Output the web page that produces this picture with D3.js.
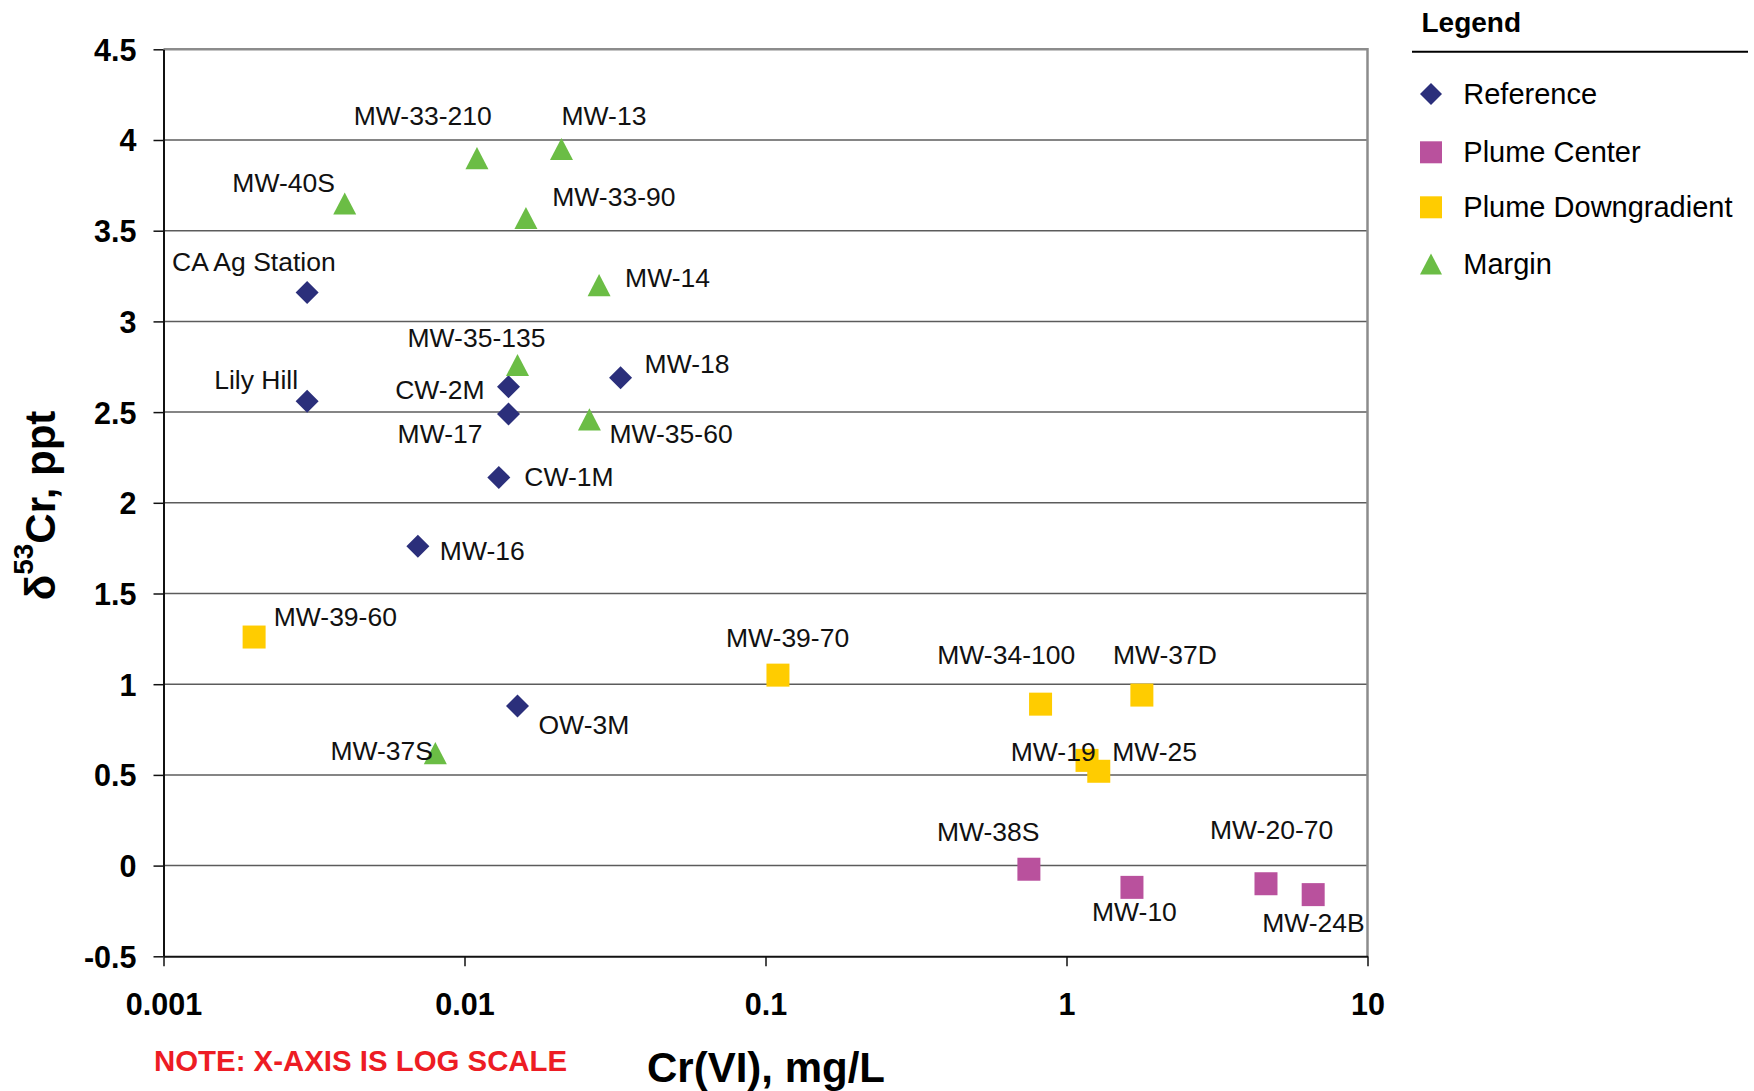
<!DOCTYPE html>
<html>
<head>
<meta charset="utf-8">
<script src="https://cdn.jsdelivr.net/npm/d3@7"></script>
<style>
  html, body { margin: 0; padding: 0; background: #fff; }
  svg { display: block; }
  text { font-family: "Liberation Sans", Arial, Helvetica, sans-serif; }
</style>
</head>
<body>
<svg id="chart" width="1754" height="1091"></svg>
<script>
// ---------------- DATA ----------------
const categories = ["Reference", "Plume Center", "Plume Downgradient", "Margin"];

const referenceNames = ["CA Ag Station", "Lily Hill", "CW-2M", "MW-17", "MW-18", "CW-1M", "MW-16", "OW-3M"];
const referenceCr    = [0.003, 0.003, 0.014, 0.014, 0.033, 0.013, 0.007, 0.015];
const referenceDelta = [3.16, 2.56, 2.64, 2.49, 2.69, 2.14, 1.76, 0.88];

const plumeCenterNames = ["MW-38S", "MW-10", "MW-20-70", "MW-24B"];
const plumeCenterCr    = [0.75, 1.65, 4.6, 6.6];
const plumeCenterDelta = [-0.02, -0.12, -0.10, -0.16];

const downgradientNames = ["MW-39-60", "MW-39-70", "MW-34-100", "MW-37D", "MW-19", "MW-25"];
const downgradientCr    = [0.002, 0.11, 0.82, 1.78, 1.17, 1.28];
const downgradientDelta = [1.26, 1.05, 0.89, 0.94, 0.58, 0.52];

const marginNames = ["MW-33-210", "MW-13", "MW-40S", "MW-33-90", "MW-14", "MW-35-135", "MW-35-60", "MW-37S"];
const marginCr    = [0.011, 0.021, 0.004, 0.016, 0.028, 0.015, 0.026, 0.008];
const marginDelta = [3.90, 3.95, 3.65, 3.57, 3.20, 2.76, 2.46, 0.62];

const xTickValues = [0.001, 0.01, 0.1, 1, 10];
const xTickLabels = ["0.001", "0.01", "0.1", "1", "10"];
const yTickValues = [-0.5, 0, 0.5, 1, 1.5, 2, 2.5, 3, 3.5, 4, 4.5];
const yTickLabels = ["-0.5", "0", "0.5", "1", "1.5", "2", "2.5", "3", "3.5", "4", "4.5"];

const xTitle = "Cr(VI), mg/L";
const noteText = "NOTE: X-AXIS IS LOG SCALE";
const legendTitle = "Legend";

// ---------------- LAYOUT / STYLE ----------------
const plot = { left: 163.5, right: 1367.5, top: 49.3, bottom: 956.3 };
const FONT = '"Liberation Sans", Arial, Helvetica, sans-serif';

const colors = {
  "Reference": "#2B2F7B",
  "Plume Center": "#B9519D",
  "Plume Downgradient": "#FFCC00",
  "Margin": "#6BBD45"
};

// label placement relative to marker centre: [dx, dy(baseline), anchor]
const labelPlacement = {
  "CA Ag Station": [-135, -21, "start"],
  "Lily Hill": [-9, -12.5, "end"],
  "CW-2M": [-24, 12.5, "end"],
  "MW-17": [-26, 28.6, "end"],
  "MW-18": [24, -5, "start"],
  "CW-1M": [25.5, 8.2, "start"],
  "MW-16": [22, 14, "start"],
  "OW-3M": [21, 28.2, "start"],
  "MW-38S": [-92, -28, "start"],
  "MW-10": [-40, 33.4, "start"],
  "MW-20-70": [-56, -44.3, "start"],
  "MW-24B": [-51, 37.6, "start"],
  "MW-39-60": [19.6, -11.2, "start"],
  "MW-39-70": [-52, -28.4, "start"],
  "MW-34-100": [-103.3, -40.3, "start"],
  "MW-37D": [-29, -31, "start"],
  "MW-19": [-76.3, 0.7, "start"],
  "MW-25": [13.4, -10.3, "start"],
  "MW-33-210": [-123.2, -33.2, "start"],
  "MW-13": [0, -23.6, "start"],
  "MW-40S": [-9.8, -11.4, "end"],
  "MW-33-90": [26.3, -11.6, "start"],
  "MW-14": [26, 2, "start"],
  "MW-35-135": [-110, -18.4, "start"],
  "MW-35-60": [20, 24, "start"],
  "MW-37S": [-2.3, 6.4, "end"]
};

// custom symbol types (size = bounding width)
const diamondType = {
  draw(ctx, s) {
    const r = s / 2;
    ctx.moveTo(0, -r); ctx.lineTo(r, 0); ctx.lineTo(0, r); ctx.lineTo(-r, 0); ctx.closePath();
  }
};
const squareType = {
  draw(ctx, s) {
    const r = s / 2;
    ctx.moveTo(-r, -r); ctx.lineTo(r, -r); ctx.lineTo(r, r); ctx.lineTo(-r, r); ctx.closePath();
  }
};
const triangleType = {
  draw(ctx, s) {
    const r = s / 2, h = s * 0.96 / 2;
    ctx.moveTo(0, -h); ctx.lineTo(r, h); ctx.lineTo(-r, h); ctx.closePath();
  }
};
const symbolTypes = {
  "Reference": diamondType,
  "Plume Center": squareType,
  "Plume Downgradient": squareType,
  "Margin": triangleType
};
const markerSize = 23;

// ---------------- BUILD SERIES ----------------
function build(cat, names, xs, ys) {
  return names.map((n, i) => ({ cat, name: n, x: xs[i], y: ys[i] }));
}
const series = [
  build("Reference", referenceNames, referenceCr, referenceDelta),
  build("Plume Center", plumeCenterNames, plumeCenterCr, plumeCenterDelta),
  build("Plume Downgradient", downgradientNames, downgradientCr, downgradientDelta),
  build("Margin", marginNames, marginCr, marginDelta)
];
const allPoints = series.flat();

// ---------------- SCALES ----------------
const x = d3.scaleLog().domain([0.001, 10]).range([plot.left, plot.right]);
const y = d3.scaleLinear().domain([-0.5, 4.5]).range([plot.bottom, plot.top]);

const svg = d3.select("#chart");

// gridlines
svg.append("g")
  .selectAll("line")
  .data(yTickValues.filter(v => v > -0.5 && v < 4.5))
  .join("line")
  .attr("x1", plot.left).attr("x2", plot.right)
  .attr("y1", d => y(d)).attr("y2", d => y(d))
  .attr("stroke", "#5c5c5c").attr("stroke-width", 1.5);

// top + right border (grey)
svg.append("line")
  .attr("x1", plot.left).attr("x2", plot.right)
  .attr("y1", y(4.5)).attr("y2", y(4.5))
  .attr("stroke", "#8c8c8c").attr("stroke-width", 2.5);
svg.append("line")
  .attr("x1", x(10)).attr("x2", x(10))
  .attr("y1", y(4.5) - 1.2).attr("y2", y(-0.5))
  .attr("stroke", "#8c8c8c").attr("stroke-width", 2.5);

// axes
const xAxis = d3.axisBottom(x)
  .tickValues(xTickValues)
  .tickFormat((d, i) => xTickLabels[i])
  .tickSizeInner(10).tickSizeOuter(0).tickPadding(30);
const gx = svg.append("g").attr("transform", `translate(0,${plot.bottom})`).call(xAxis);
gx.select(".domain").attr("stroke", "#111").attr("stroke-width", 2);
gx.selectAll(".tick line").attr("stroke", "#111").attr("stroke-width", 1.5);
gx.selectAll(".tick text")
  .attr("font-family", FONT).attr("font-size", 30.5).attr("font-weight", "bold")
  .attr("fill", "#000").attr("dy", 0).attr("y", 1015 - plot.bottom);

const yAxis = d3.axisLeft(y)
  .tickValues(yTickValues)
  .tickFormat((d, i) => yTickLabels[i])
  .tickSizeInner(10).tickSizeOuter(0).tickPadding(17);
const gy = svg.append("g").attr("transform", `translate(${plot.left},0)`).call(yAxis);
gy.select(".domain").attr("stroke", "#111").attr("stroke-width", 2);
gy.selectAll(".tick line").attr("stroke", "#111").attr("stroke-width", 1.5);
gy.selectAll(".tick text")
  .attr("font-family", FONT).attr("font-size", 30.5).attr("font-weight", "bold")
  .attr("fill", "#000").attr("dy", "0.36em");

// markers
const sym = d3.symbol();
svg.append("g")
  .selectAll("path")
  .data(allPoints)
  .join("path")
  .attr("transform", d => `translate(${x(d.x)},${y(d.y)})`)
  .attr("d", d => sym.type(symbolTypes[d.cat]).size(markerSize)())
  .attr("fill", d => colors[d.cat]);

// point labels
svg.append("g")
  .selectAll("text")
  .data(allPoints)
  .join("text")
  .attr("x", d => x(d.x) + labelPlacement[d.name][0])
  .attr("y", d => y(d.y) + labelPlacement[d.name][1])
  .attr("text-anchor", d => labelPlacement[d.name][2])
  .attr("font-family", FONT).attr("font-size", 26.5)
  .attr("fill", "#111")
  .text(d => d.name);

// axis titles
svg.append("text")
  .attr("x", (plot.left + plot.right) / 2 + 0.5).attr("y", 1081.5)
  .attr("text-anchor", "middle")
  .attr("font-family", FONT).attr("font-size", 42).attr("font-weight", "bold")
  .attr("fill", "#000")
  .text(xTitle);

const yt = svg.append("text")
  .attr("transform", "translate(55,505.5) rotate(-90)")
  .attr("text-anchor", "middle")
  .attr("font-family", FONT).attr("font-weight", "bold")
  .attr("fill", "#000");
yt.append("tspan").attr("font-size", 42).text("δ");
yt.append("tspan").attr("font-size", 28).attr("dy", -22).text("53");
yt.append("tspan").attr("font-size", 42).attr("dy", 22).text("Cr, ppt");

// note
svg.append("text")
  .attr("x", 154).attr("y", 1070.5)
  .attr("font-family", FONT).attr("font-size", 29.4).attr("font-weight", "bold")
  .attr("fill", "#ED1C24")
  .text(noteText);

// legend
const lg = svg.append("g");
lg.append("text")
  .attr("x", 1421.5).attr("y", 32.3)
  .attr("font-family", FONT).attr("font-size", 28).attr("font-weight", "bold")
  .attr("fill", "#000")
  .text(legendTitle);
lg.append("line")
  .attr("x1", 1412).attr("x2", 1748)
  .attr("y1", 51.7).attr("y2", 51.7)
  .attr("stroke", "#000").attr("stroke-width", 2);

const legendYs = { "Reference": 94, "Plume Center": 152.3, "Plume Downgradient": 207.3, "Margin": 264 };
const items = lg.selectAll("g.item")
  .data(categories)
  .join("g")
  .attr("class", "item")
  .attr("transform", d => `translate(0,${legendYs[d]})`);
items.append("path")
  .attr("transform", "translate(1431,0)")
  .attr("d", d => sym.type(symbolTypes[d]).size(22)())
  .attr("fill", d => colors[d]);
items.append("text")
  .attr("x", 1463.3).attr("y", 10)
  .attr("font-family", FONT).attr("font-size", 29)
  .attr("fill", "#000")
  .text(d => d);
</script>
</body>
</html>
